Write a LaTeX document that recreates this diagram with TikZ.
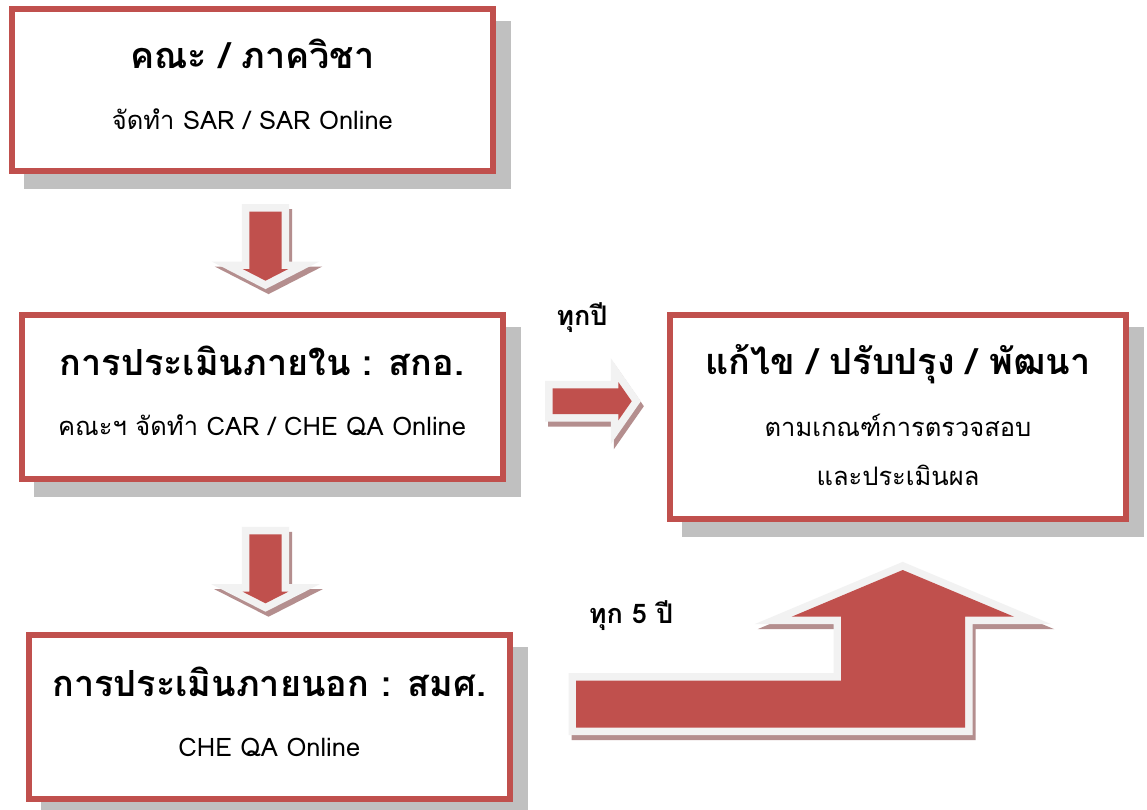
\documentclass[tikz,border=0pt]{standalone}
\usepackage{fontspec}
\setmainfont[Script=Thai]{Loma}
\usetikzlibrary{backgrounds}
\definecolor{boxred}{HTML}{C0504D}
\definecolor{boxshadow}{HTML}{C0C0C0}
\definecolor{arrowrim}{HTML}{F2F2F2}
\definecolor{arrowshadow}{RGB}{180,142,142}
\def\arrowDownOne{(249.3,211.7) -- (281.7,211.7) -- (281.7,269) -- (288.3,269) -- (265.5,280.7) -- (242.7,269) -- (249.3,269) -- cycle}
\def\arrowDownTwo{(249.3,534.3) -- (281.7,534.3) -- (281.7,591.7) -- (288.3,591.7) -- (265.5,603.3) -- (242.7,591.7) -- (249.3,591.7) -- cycle}
\def\arrowRightOne{(552.7,388.3) -- (618.3,388.3) -- (618.3,382) -- (631.7,401.2) -- (618.3,420.4) -- (618.3,414) -- (552.7,414) -- cycle}
\def\arrowBigUp{(576,727.7) -- (576,680.7) -- (841,680.7) -- (841,616.7) -- (791.7,616.7) -- (902.7,570) -- (1014,616.7) -- (965,616.7) -- (965,727.7) -- cycle}
\begin{document}
\begin{tikzpicture}[x=1pt,y=-1pt,
  boxframe/.style={draw=boxred, line width=6pt, fill=white, inner sep=0pt, outer sep=0pt},
  boxshade/.style={fill=boxshadow},
  titletext/.style={font=\fontsize{36}{42}\selectfont\bfseries, anchor=base, inner sep=0pt},
  subtext/.style={font=\fontsize{25.5}{30}\selectfont, anchor=base, inner sep=0pt},
  labeltext/.style={font=\fontsize{27}{32}\selectfont\bfseries, anchor=base, inner sep=0pt},
  arrowshade/.style={draw=arrowshadow, fill=arrowshadow, line width=15pt, line join=miter, miter limit=10, shift={(3,5)}},
  arrowrimpart/.style={draw=arrowrim, fill=arrowrim, line width=15pt, line join=miter, miter limit=10},
  arrowbody/.style={fill=boxred}
]
\path[use as bounding box] (0,0) rectangle (1147,809);

% boxes
\node[boxframe, minimum width=480.7pt, minimum height=162pt] (b1) at (252.35,90) {};
\node[boxframe, minimum width=481.2pt, minimum height=164pt] (b2) at (262.1,396.7) {};
\node[boxframe, minimum width=480.7pt, minimum height=164pt] (b3) at (269.35,716.7) {};
\node[boxframe, minimum width=456.6pt, minimum height=204pt] (b4) at (898,416.7) {};

\begin{scope}[on background layer]
  \fill[white] (0,0) rectangle (1147,809);
  \foreach \b in {b1,b2,b3,b4}{
    \fill[boxshade] ([shift={(12,12)}]\b.north west) rectangle ([shift={(18,18)}]\b.south east);
  }
\end{scope}

% texts
\node[titletext] (t1) at (252.35,68) {คณะ / ภาควิชา};
\node[subtext] (s1) at (252.35,129) {จัดทำ SAR / SAR Online};
\node[titletext] (t2) at (262.1,375) {การประเมินภายใน : สกอ.};
\node[subtext] (s2) at (262.1,435) {คณะฯ จัดทำ CAR / CHE QA Online};
\node[titletext] (t3) at (269.35,696) {การประเมินภายนอก : สมศ.};
\node[subtext] (s3) at (269.35,756) {CHE QA Online};
\node[titletext] (t4) at (898,374) {แก้ไข / ปรับปรุง / พัฒนา};
\node[subtext] (s4a) at (898,436.5) {ตามเกณฑ์การตรวจสอบ};
\node[subtext] (s4b) at (898,485) {และประเมินผล};
\node[labeltext] (l1) at (582,325) {ทุกปี};
\node[labeltext] (l2) at (631,623) {ทุก 5 ปี};

% block arrows
\foreach \shape in {\arrowDownOne,\arrowDownTwo,\arrowRightOne,\arrowBigUp}{
  \path[arrowshade] \shape;
  \path[arrowrimpart] \shape;
  \path[arrowbody] \shape;
}
\end{tikzpicture}
\end{document}
